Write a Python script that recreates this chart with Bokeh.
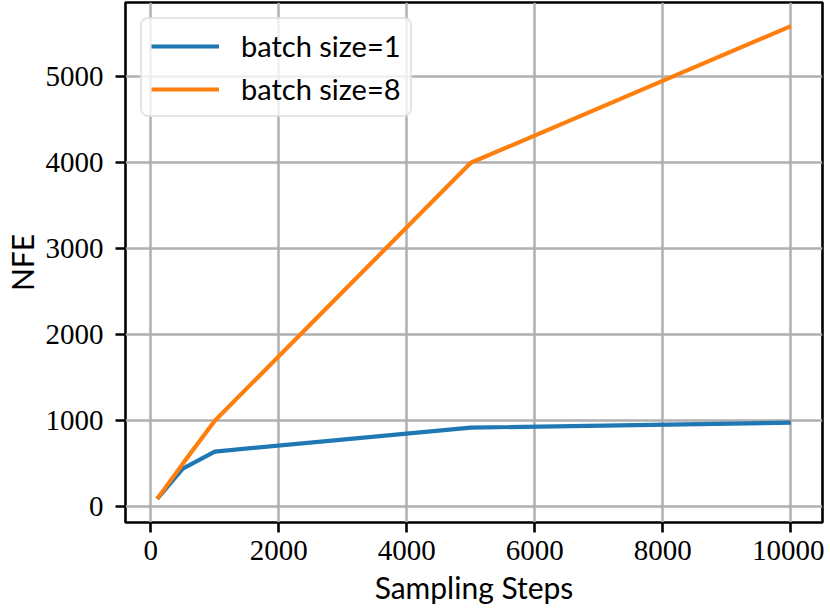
from bokeh.plotting import figure
from bokeh.models import Range1d, Legend, LegendItem, FixedTicker
from bokeh.embed import file_html
from bokeh.resources import INLINE

steps = [100, 500, 1000, 5000, 10000]
nfe_bs1 = [90, 442, 640, 919, 977]
nfe_bs8 = [90, 500, 1000, 4000, 5590]
labels = ["batch size=1", "batch size=8"]
x_ticks = [0, 2000, 4000, 6000, 8000, 10000]
y_ticks = [0, 1000, 2000, 3000, 4000, 5000]

p = figure(width=824, height=610, output_backend="svg", toolbar_location=None,
           x_range=Range1d(-395, 10495), y_range=Range1d(-185, 5865),
           min_border_left=124, min_border_right=2, min_border_top=2, min_border_bottom=88)

p.outline_line_color = "black"
p.outline_line_width = 2.6
p.outline_line_alpha = 1.0

for ax in (p.xaxis[0], p.yaxis[0]):
    ax.axis_line_color = None
    ax.major_tick_line_color = "black"
    ax.major_tick_line_width = 2.6
    ax.major_tick_out = 10
    ax.major_tick_in = 0
    ax.minor_tick_line_color = None
    ax.major_label_text_font = "Liberation Serif"
    ax.major_label_text_font_size = "29px"
    ax.major_label_text_color = "black"
    ax.axis_label_text_font = "Lato"
    ax.axis_label_text_font_size = "30px"
    ax.axis_label_text_font_style = "normal"
    ax.axis_label_text_color = "black"

p.xaxis.ticker = FixedTicker(ticks=x_ticks)
p.yaxis.ticker = FixedTicker(ticks=y_ticks)
p.xaxis.axis_label = "Sampling Steps"
p.yaxis.axis_label = "NFE"
p.xaxis.major_label_standoff = 8
p.yaxis.major_label_standoff = 12
p.xaxis.axis_label_standoff = 6
p.yaxis.axis_label_standoff = 3

p.grid.grid_line_color = "#b0b0b0"
p.grid.grid_line_width = 2.5

r1 = p.line(steps, nfe_bs1, line_color="#1f77b4", line_width=4.2)
r2 = p.line(steps, nfe_bs8, line_color="#ff7f0e", line_width=4.2)

legend = Legend(items=[LegendItem(label=labels[0], renderers=[r1]),
                       LegendItem(label=labels[1], renderers=[r2])],
                location="top_left")
legend.label_text_font = "Lato"
legend.label_text_font_size = "29px"
legend.label_text_color = "black"
legend.glyph_width = 68
legend.glyph_height = 30
legend.label_standoff = 22
legend.spacing = 8
legend.padding = 9
legend.margin = 15
legend.border_line_color = "#cccccc"
legend.border_line_width = 2.5
legend.background_fill_alpha = 0.8
try:
    legend.border_radius = 8
except Exception:
    pass
p.add_layout(legend)

open("out.html", "w").write(file_html(p, INLINE))
